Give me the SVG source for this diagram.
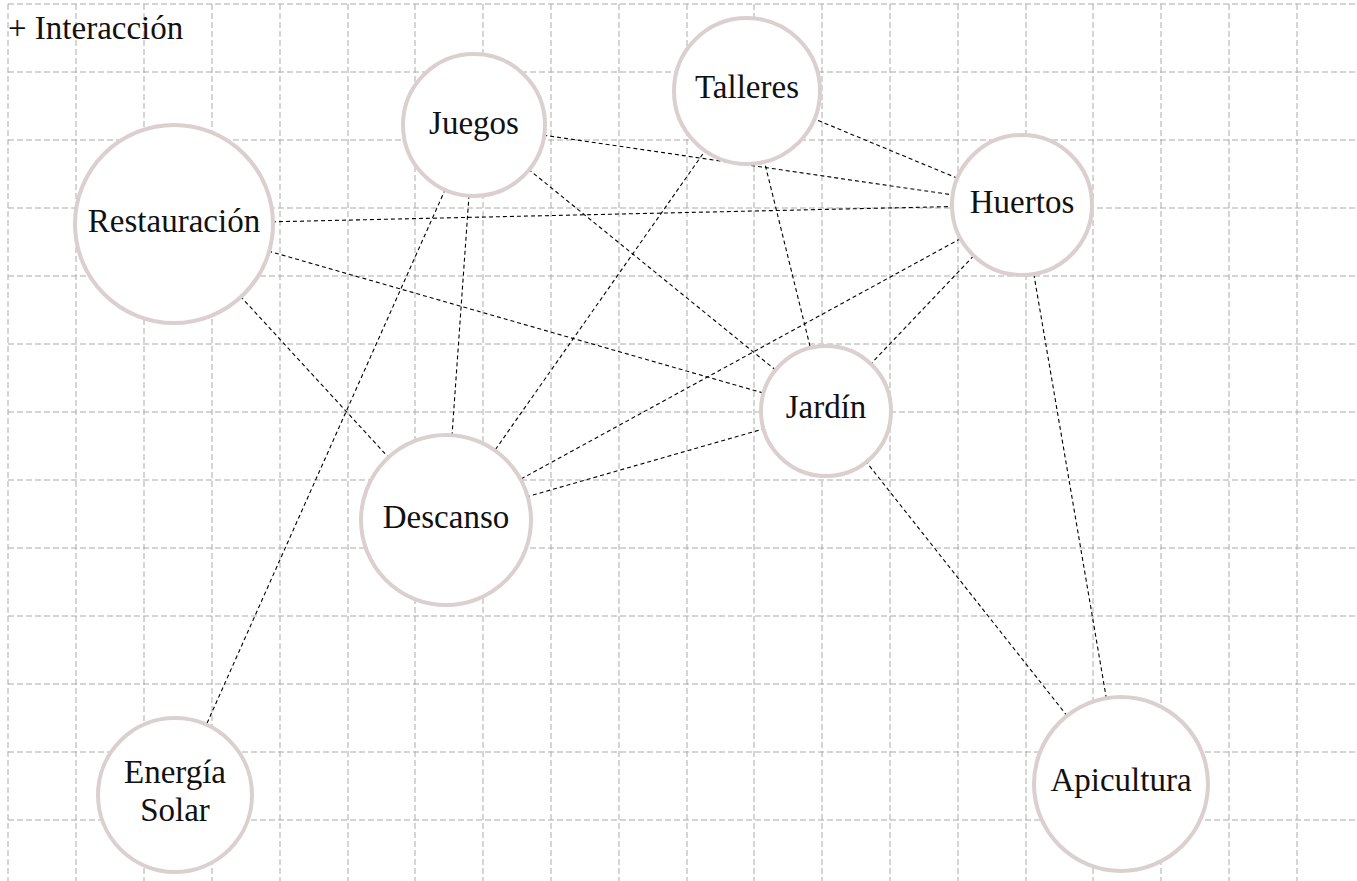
<svg xmlns="http://www.w3.org/2000/svg" width="1357" height="881" viewBox="0 0 1357 881">
<defs>
<style>
.grid line{stroke:#ababab;stroke-width:1;stroke-dasharray:6 3;}
.edges line{stroke:#000;stroke-width:1.1;stroke-dasharray:4 3;}
.node circle{fill:#fff;stroke:#dbcfcf;stroke-width:4;}
.node text,.title{font-family:"Liberation Serif","DejaVu Serif",serif;font-size:33px;fill:#111;text-anchor:middle;}
.title{text-anchor:start;}
</style>
</defs>
<rect width="1357" height="881" fill="#fff"/>
<g class="grid">
<line x1="8" y1="4" x2="1357" y2="4"/>
<line x1="8" y1="72" x2="1357" y2="72"/>
<line x1="8" y1="140" x2="1357" y2="140"/>
<line x1="8" y1="208" x2="1357" y2="208"/>
<line x1="8" y1="276" x2="1357" y2="276"/>
<line x1="8" y1="344" x2="1357" y2="344"/>
<line x1="8" y1="412" x2="1357" y2="412"/>
<line x1="8" y1="480" x2="1357" y2="480"/>
<line x1="8" y1="548" x2="1357" y2="548"/>
<line x1="8" y1="616" x2="1357" y2="616"/>
<line x1="8" y1="684" x2="1357" y2="684"/>
<line x1="8" y1="752" x2="1357" y2="752"/>
<line x1="8" y1="820" x2="1357" y2="820"/>
<line x1="8" y1="4" x2="8" y2="881"/>
<line x1="76" y1="4" x2="76" y2="881"/>
<line x1="144" y1="4" x2="144" y2="881"/>
<line x1="212" y1="4" x2="212" y2="881"/>
<line x1="280" y1="4" x2="280" y2="881"/>
<line x1="348" y1="4" x2="348" y2="881"/>
<line x1="415" y1="4" x2="415" y2="881"/>
<line x1="483" y1="4" x2="483" y2="881"/>
<line x1="551" y1="4" x2="551" y2="881"/>
<line x1="619" y1="4" x2="619" y2="881"/>
<line x1="687" y1="4" x2="687" y2="881"/>
<line x1="754" y1="4" x2="754" y2="881"/>
<line x1="822" y1="4" x2="822" y2="881"/>
<line x1="890" y1="4" x2="890" y2="881"/>
<line x1="958" y1="4" x2="958" y2="881"/>
<line x1="1026" y1="4" x2="1026" y2="881"/>
<line x1="1093" y1="4" x2="1093" y2="881"/>
<line x1="1161" y1="4" x2="1161" y2="881"/>
<line x1="1229" y1="4" x2="1229" y2="881"/>
<line x1="1297" y1="4" x2="1297" y2="881"/>
</g>
<text class="title" x="8" y="39">+ Interacción</text>
<g class="edges" id="connectors">
<line x1="474" y1="125" x2="1022" y2="205"/>
<line x1="474" y1="125" x2="826" y2="411"/>
<line x1="474" y1="125" x2="446" y2="520"/>
<line x1="474" y1="125" x2="175" y2="795"/>
<line x1="747" y1="91" x2="1022" y2="205"/>
<line x1="747" y1="91" x2="826" y2="411"/>
<line x1="747" y1="91" x2="446" y2="520"/>
<line x1="174" y1="224" x2="1022" y2="205"/>
<line x1="174" y1="224" x2="826" y2="411"/>
<line x1="174" y1="224" x2="446" y2="520"/>
<line x1="1022" y1="205" x2="446" y2="520"/>
<line x1="1022" y1="205" x2="826" y2="411"/>
<line x1="1022" y1="205" x2="1121" y2="784"/>
<line x1="826" y1="411" x2="446" y2="520"/>
<line x1="826" y1="411" x2="1121" y2="784"/>
</g>
<g class="node" id="restauracion"><circle cx="174" cy="224" r="99"/><text x="174" y="232">Restauración</text></g>
<g class="node" id="juegos"><circle cx="474" cy="125" r="71"/><text x="474" y="134">Juegos</text></g>
<g class="node" id="talleres"><circle cx="747" cy="91" r="73"/><text x="747" y="98">Talleres</text></g>
<g class="node" id="huertos"><circle cx="1022" cy="205" r="70"/><text x="1022" y="213">Huertos</text></g>
<g class="node" id="jardin"><circle cx="826" cy="411" r="65"/><text x="826" y="418">Jardín</text></g>
<g class="node" id="descanso"><circle cx="446" cy="520" r="85"/><text x="446" y="528">Descanso</text></g>
<g class="node" id="energia-solar"><circle cx="175" cy="795" r="77"/><text x="175" y="783">Energía</text><text x="175" y="821">Solar</text></g>
<g class="node" id="apicultura"><circle cx="1121" cy="784" r="87"/><text x="1121" y="791">Apicultura</text></g>
</svg>
